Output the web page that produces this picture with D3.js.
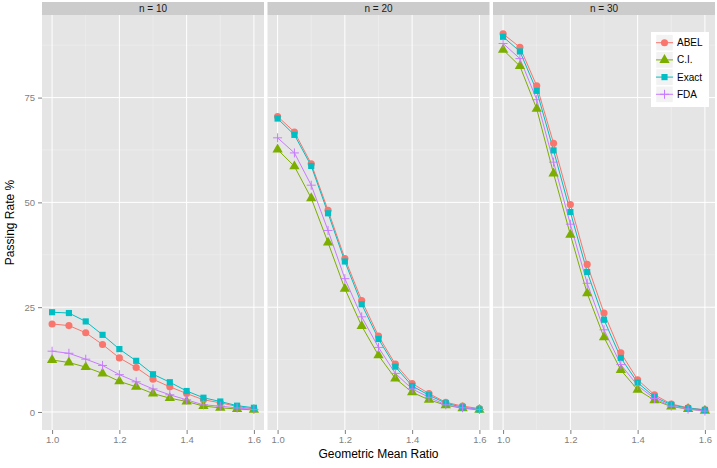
<!DOCTYPE html>
<html>
<head>
<meta charset="utf-8">
<script src="https://cdn.jsdelivr.net/npm/d3@7"></script>
<style>
  body { margin: 0; background: #fff; }
  svg { display: block; font-family: "Liberation Sans", Arial, sans-serif; }
</style>
</head>
<body>
<svg id="chart" width="717" height="468"></svg>
<script>
// geometric mean ratio values on the x axis
var gmr = [1.0, 1.05, 1.1, 1.15, 1.2, 1.25, 1.3, 1.35, 1.4, 1.45, 1.5, 1.55, 1.6]
var xTicks = [1.0, 1.2, 1.4, 1.6]
var yTicks = [0, 25, 50, 75]
var facets = ["n = 10", "n = 20", "n = 30"]
var methods = ["ABEL", "C.I.", "Exact", "FDA"]

// passing rate %, one array per method and sample size
var abel10 = [21.0, 20.6, 18.9, 16.1, 12.9, 10.6, 7.8, 6.0, 4.4, 2.9, 2.2, 1.3, 0.7]
var ci10 = [12.4, 11.8, 10.7, 9.2, 7.3, 6.0, 4.4, 3.3, 2.5, 1.4, 1.0, 0.7, 0.5]
var exact10 = [23.8, 23.6, 21.6, 18.4, 15.0, 12.2, 9.0, 7.1, 5.0, 3.4, 2.5, 1.5, 1.0]
var fda10 = [14.5, 14.0, 12.6, 11.1, 8.9, 7.2, 5.5, 4.1, 2.9, 1.7, 1.4, 0.95, 0.6]

var abel20 = [70.5, 66.8, 59.2, 48.1, 36.6, 26.6, 18.1, 11.4, 6.8, 4.4, 2.3, 1.4, 0.8]
var ci20 = [62.6, 58.6, 51.0, 40.4, 29.4, 20.5, 13.5, 8.0, 4.7, 2.9, 1.6, 0.9, 0.5]
var exact20 = [70.0, 66.1, 58.7, 47.4, 35.9, 25.7, 17.4, 10.8, 6.2, 4.0, 2.1, 1.1, 0.6]
var fda20 = [65.4, 61.8, 54.1, 43.3, 31.8, 22.7, 15.4, 9.2, 5.5, 3.5, 1.7, 1.0, 0.6]

var abel30 = [90.2, 87.0, 77.8, 64.1, 49.5, 35.2, 23.6, 14.1, 7.7, 4.1, 1.9, 1.0, 0.5]
var ci30 = [86.4, 82.5, 72.3, 56.9, 42.3, 28.3, 17.8, 10.0, 5.3, 2.8, 1.3, 0.7, 0.3]
var exact30 = [89.5, 86.0, 76.6, 62.4, 47.7, 33.4, 22.0, 12.9, 7.0, 3.6, 1.7, 0.9, 0.5]
var fda30 = [87.9, 84.3, 74.5, 59.6, 44.8, 30.7, 19.6, 11.3, 6.3, 3.2, 1.4, 0.7, 0.2]

var seriesByFacet = [
    [abel10, ci10, exact10, fda10],
    [abel20, ci20, exact20, fda20],
    [abel30, ci30, exact30, fda30]
]
var colors = ["#F8766D", "#7CAE00", "#00BFC4", "#C77CFF"]

var svg = d3.select("#chart")
var panelW = 222, gap = 3.5, padLeft = 42, panelTop = 15, panelBottom = 430, stripTop = 2

// ggplot style 5% expansion
var allVals = seriesByFacet.flat(2)
var yMin = d3.min(allVals), yMax = d3.max(allVals)
var yPad = (yMax - yMin) * 0.05
var y = d3.scaleLinear().domain([yMin - yPad, yMax + yPad]).range([panelBottom, panelTop])
var xPad = (1.6 - 1.0) * 0.05

var symbols = [
    d3.symbol().type(d3.symbolCircle).size(40),
    d3.symbol().type(d3.symbolTriangle).size(46),
    d3.symbol().type(d3.symbolSquare).size(38)
]

var drawPoint = function (g, k, cx, cy) {
    if (k == 3) {
        g.append("path")
            .attr("d", `M${cx - 4.5},${cy}H${cx + 4.5}M${cx},${cy - 4.5}V${cy + 4.5}`)
            .attr("stroke", colors[k])
            .attr("stroke-width", 1)
            .attr("fill", "none")
    } else {
        g.append("path")
            .attr("d", symbols[k]())
            .attr("transform", `translate(${cx},${cy})`)
            .attr("fill", colors[k])
    }
}

facets.forEach(function (label, i) {
    var x0 = padLeft + i * (panelW + gap)
    var x = d3.scaleLinear().domain([1.0 - xPad, 1.6 + xPad]).range([x0, x0 + panelW])
    var g = svg.append("g")

    // strip
    g.append("rect").attr("x", x0).attr("y", stripTop)
        .attr("width", panelW).attr("height", panelTop - stripTop).attr("fill", "#cccccc")
    g.append("text").attr("x", x0 + panelW / 2).attr("y", (stripTop + panelTop) / 2 + 3.5)
        .attr("text-anchor", "middle").attr("font-size", 10).attr("fill", "#1a1a1a")
        .text(label)

    // panel background
    g.append("rect").attr("x", x0).attr("y", panelTop)
        .attr("width", panelW).attr("height", panelBottom - panelTop).attr("fill", "#e5e5e5")

    // minor grid
    var xMinor = [1.1, 1.3, 1.5], yMinor = [12.5, 37.5, 62.5, 87.5]
    g.selectAll(".xminor").data(xMinor).join("line").attr("class", "xminor")
        .attr("x1", d => x(d)).attr("x2", d => x(d)).attr("y1", panelTop).attr("y2", panelBottom)
        .attr("stroke", "#f2f2f2").attr("stroke-width", 0.5)
    g.selectAll(".yminor").data(yMinor).join("line").attr("class", "yminor")
        .attr("x1", x0).attr("x2", x0 + panelW).attr("y1", d => y(d)).attr("y2", d => y(d))
        .attr("stroke", "#f2f2f2").attr("stroke-width", 0.5)
    // major grid
    xTicks.forEach(function (t) {
        g.append("line").attr("x1", x(t)).attr("x2", x(t)).attr("y1", panelTop).attr("y2", panelBottom)
            .attr("stroke", "#fff").attr("stroke-width", 1)
    })
    yTicks.forEach(function (t) {
        g.append("line").attr("x1", x0).attr("x2", x0 + panelW).attr("y1", y(t)).attr("y2", y(t))
            .attr("stroke", "#fff").attr("stroke-width", 1)
    })

    // x axis
    var xAxis = d3.axisBottom(x).tickValues(xTicks).tickFormat(d3.format(".1f")).tickSize(4).tickPadding(2)
    var ax = g.append("g").attr("transform", `translate(0,${panelBottom})`).call(xAxis)
    ax.select(".domain").remove()
    ax.selectAll("line").attr("stroke", "#7f7f7f")
    ax.selectAll("text").attr("fill", "#7f7f7f").attr("font-size", 9.5)
        .attr("font-family", "Liberation Sans, Arial, sans-serif")

    // lines
    var series = seriesByFacet[i]
    var line = d3.line().x((d, j) => x(gmr[j])).y(d => y(d))
    series.forEach(function (vals, k) {
        g.append("path").datum(vals).attr("d", line)
            .attr("fill", "none").attr("stroke", colors[k]).attr("stroke-width", 1)
    })
    // points
    series.forEach(function (vals, k) {
        vals.forEach(function (v, j) {
            drawPoint(g, k, x(gmr[j]), y(v))
        })
    })
})

// y axis on the first panel
var yAxis = d3.axisLeft(y).tickValues(yTicks).tickSize(4).tickPadding(3)
var ay = svg.append("g").attr("transform", `translate(${padLeft},0)`).call(yAxis)
ay.select(".domain").remove()
ay.selectAll("line").attr("stroke", "#7f7f7f")
ay.selectAll("text").attr("fill", "#7f7f7f").attr("font-size", 9.5)
    .attr("font-family", "Liberation Sans, Arial, sans-serif")

// axis titles
svg.append("text").attr("x", padLeft + (3 * panelW + 2 * gap) / 2).attr("y", 458)
    .attr("text-anchor", "middle").attr("font-size", 12).text("Geometric Mean Ratio")
svg.append("text").attr("transform", `translate(14,${(panelTop + panelBottom) / 2}) rotate(-90)`)
    .attr("text-anchor", "middle").attr("font-size", 12).text("Passing Rate %")

// legend
var lg = svg.append("g")
lg.append("rect").attr("x", 651).attr("y", 32).attr("width", 58).attr("height", 75).attr("fill", "#fff")
methods.forEach(function (m, k) {
    var cy = 42.7 + k * 17.2
    lg.append("rect").attr("x", 656).attr("y", cy - 8.1).attr("width", 17).attr("height", 16.2)
        .attr("fill", "#f2f2f2").attr("stroke", "#fff").attr("stroke-width", 0.5)
    lg.append("line").attr("x1", 656).attr("x2", 673).attr("y1", cy).attr("y2", cy)
        .attr("stroke", colors[k]).attr("stroke-width", 1)
    drawPoint(lg, k, 664.5, cy)
    lg.append("text").attr("x", 677).attr("y", cy + 3.5).attr("font-size", 10).text(m)
})
</script>
</body>
</html>
